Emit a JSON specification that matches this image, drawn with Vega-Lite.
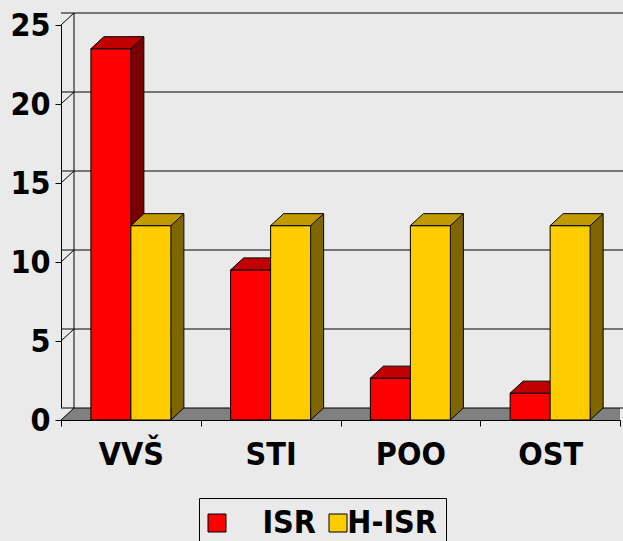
{
  "$schema": "https://vega.github.io/schema/vega-lite/v6.json",
  "width": 559,
  "height": 395,
  "autosize": {"type": "none"},
  "padding": {"left": 61, "top": 25, "right": 3, "bottom": 121},
  "background": "#EAEAEA",
  "config": {
    "view": {"stroke": null},
    "font": "'Liberation Sans Narrow', 'DejaVu Sans Condensed', sans-serif",
    "axis": {"grid": false, "domainColor": "black", "domainWidth": 1, "tickColor": "black", "tickWidth": 1, "tickSize": 6, "labelFontSize": 32, "labelFontWeight": "bold", "labelColor": "black"},
    "axisX": {"tickBand": "extent", "labelAngle": 0, "labelPadding": 13},
    "axisY": {"tickCount": 5, "labelPadding": 5}
  },
  "datasets": {
    "bars": [
      {"kat": "VVŠ", "rada": "ISR", "hodnota": 23.5},
      {"kat": "STI", "rada": "ISR", "hodnota": 9.5},
      {"kat": "POO", "rada": "ISR", "hodnota": 2.65},
      {"kat": "OST", "rada": "ISR", "hodnota": 1.7},
      {"kat": "VVŠ", "rada": "H-ISR", "hodnota": 12.3},
      {"kat": "STI", "rada": "H-ISR", "hodnota": 12.3},
      {"kat": "POO", "rada": "H-ISR", "hodnota": 12.3},
      {"kat": "OST", "rada": "H-ISR", "hodnota": 12.3}
    ],
    "grid": [{"v": 0}, {"v": 5}, {"v": 10}, {"v": 15}, {"v": 20}, {"v": 25}]
  },
  "layer": [
    {
      "data": {"name": "grid"},
      "transform": [{"filter": "datum.v === 0"}],
      "mark": {"type": "rule", "stroke": "#808080", "strokeWidth": 12, "strokeCap": "butt", "yOffset": -6, "x2Offset": 13},
      "encoding": {
        "y": {"field": "v", "type": "quantitative", "title": null, "scale": {"domain": [0, 25], "nice": false}}
      }
    },
    {
      "data": {"name": "grid"},
      "transform": [{"filter": "datum.v === 0"}],
      "mark": {"type": "point", "shape": "M0,0 L0,-12 L13,-12 Z", "size": 4, "filled": true, "fill": "#EAEAEA", "strokeWidth": 0, "opacity": 1},
      "encoding": {
        "x": {"value": 0},
        "y": {"field": "v", "type": "quantitative", "title": null}
      }
    },
    {
      "data": {"name": "grid"},
      "mark": {"type": "rule", "stroke": "black", "strokeWidth": 1, "yOffset": -12, "xOffset": 13, "x2Offset": 13},
      "encoding": {
        "y": {"field": "v", "type": "quantitative", "title": null}
      }
    },
    {
      "data": {"name": "grid"},
      "mark": {"type": "rule", "stroke": "black", "strokeWidth": 1, "x2Offset": 13, "y2Offset": -12},
      "encoding": {
        "x": {"value": 0},
        "x2": {"value": 0},
        "y": {"field": "v", "type": "quantitative", "title": null},
        "y2": {"field": "v"}
      }
    },
    {
      "data": {"name": "grid"},
      "transform": [{"filter": "datum.v === 0"}],
      "mark": {"type": "rule", "stroke": "black", "strokeWidth": 1, "xOffset": 13, "yOffset": -12, "y2Offset": -12},
      "encoding": {
        "x": {"value": 0},
        "y": {"datum": 0, "type": "quantitative", "title": null},
        "y2": {"datum": 25}
      }
    },
    {
      "data": {"name": "bars"},
      "transform": [{"filter": "datum.rada === 'ISR'"}],
      "mark": {"type": "rule", "stroke": "#780000", "strokeWidth": 13, "strokeCap": "butt", "xOffset": 6.5, "yOffset": -12, "y2Offset": -12},
      "encoding": {
        "x": {"field": "kat", "type": "nominal", "title": null, "sort": ["VVŠ", "STI", "POO", "OST"], "scale": {"type": "band", "paddingInner": 0, "paddingOuter": 0}},
        "y": {"field": "hodnota", "type": "quantitative", "title": null},
        "y2": {"datum": 0}
      }
    },
    {
      "data": {"name": "bars"},
      "transform": [{"filter": "datum.rada === 'ISR'"}],
      "mark": {"type": "rule", "stroke": "black", "strokeWidth": 1, "xOffset": 13, "yOffset": -12, "y2Offset": -12},
      "encoding": {
        "x": {"field": "kat", "type": "nominal", "title": null, "sort": ["VVŠ", "STI", "POO", "OST"]},
        "y": {"field": "hodnota", "type": "quantitative", "title": null},
        "y2": {"datum": 0}
      }
    },
    {
      "data": {"name": "bars"},
      "transform": [{"filter": "datum.rada === 'H-ISR'"}],
      "mark": {"type": "rule", "stroke": "#7F6600", "strokeWidth": 13, "strokeCap": "butt", "xOffset": 46.5, "yOffset": -12, "y2Offset": -12},
      "encoding": {
        "x": {"field": "kat", "type": "nominal", "title": null, "sort": ["VVŠ", "STI", "POO", "OST"]},
        "y": {"field": "hodnota", "type": "quantitative", "title": null},
        "y2": {"datum": 0}
      }
    },
    {
      "data": {"name": "bars"},
      "transform": [{"filter": "datum.rada === 'H-ISR'"}],
      "mark": {"type": "rule", "stroke": "black", "strokeWidth": 1, "xOffset": 53, "yOffset": -12, "y2Offset": -12},
      "encoding": {
        "x": {"field": "kat", "type": "nominal", "title": null, "sort": ["VVŠ", "STI", "POO", "OST"]},
        "y": {"field": "hodnota", "type": "quantitative", "title": null},
        "y2": {"datum": 0}
      }
    },
    {
      "data": {"name": "bars"},
      "mark": {"type": "point", "shape": "M20,-12 L20,0 L33,-12", "size": 4, "filled": true, "stroke": "black", "strokeWidth": 1, "opacity": 1},
      "encoding": {
        "x": {"field": "kat", "type": "nominal", "title": null, "sort": ["VVŠ", "STI", "POO", "OST"]},
        "xOffset": {"field": "rada", "type": "nominal", "sort": ["ISR", "H-ISR"], "scale": {"type": "band", "paddingInner": 0, "paddingOuter": 0.747}},
        "y": {"datum": 0, "type": "quantitative", "title": null},
        "fill": {"condition": {"test": "datum.rada === 'ISR'", "value": "#780000"}, "value": "#7F6600"}
      }
    },
    {
      "data": {"name": "bars"},
      "transform": [{"filter": "datum.rada === 'ISR'"}],
      "mark": {"type": "bar", "stroke": "black", "strokeWidth": 1, "opacity": 1},
      "encoding": {
        "x": {"field": "kat", "type": "nominal", "title": null, "sort": ["VVŠ", "STI", "POO", "OST"]},
        "xOffset": {"field": "rada", "type": "nominal", "sort": ["ISR", "H-ISR"]},
        "y": {"field": "hodnota", "type": "quantitative", "title": null},
        "fill": {
          "field": "rada", "type": "nominal",
          "scale": {"domain": ["ISR", "H-ISR"], "range": ["#FF0000", "#FFCC00"]},
          "legend": {"orient": "none", "legendX": 138, "legendY": 473, "direction": "horizontal", "title": null, "symbolType": "square", "symbolSize": 324, "symbolStrokeColor": "black", "symbolStrokeWidth": 1, "symbolOpacity": 1, "symbolOffset": -7, "labelFontSize": 32, "labelFontWeight": "bold", "labelColor": "black", "labelAlign": "right", "labelOffset": 83, "columnPadding": 11, "strokeColor": "black", "padding": 9}
        }
      }
    },
    {
      "data": {"name": "bars"},
      "transform": [{"filter": "datum.rada === 'ISR'"}],
      "mark": {"type": "point", "shape": "M-20,0 L20,0 L33,-12 L-7,-12 Z", "size": 4, "filled": true, "fill": "#C00000", "stroke": "black", "strokeWidth": 1, "opacity": 1},
      "encoding": {
        "x": {"field": "kat", "type": "nominal", "title": null, "sort": ["VVŠ", "STI", "POO", "OST"]},
        "xOffset": {"field": "rada", "type": "nominal", "sort": ["ISR", "H-ISR"]},
        "y": {"field": "hodnota", "type": "quantitative", "title": null}
      }
    },
    {
      "data": {"name": "bars"},
      "transform": [{"filter": "datum.rada === 'H-ISR'"}],
      "mark": {"type": "bar", "stroke": "black", "strokeWidth": 1, "opacity": 1},
      "encoding": {
        "x": {"field": "kat", "type": "nominal", "title": null, "sort": ["VVŠ", "STI", "POO", "OST"]},
        "xOffset": {"field": "rada", "type": "nominal", "sort": ["ISR", "H-ISR"]},
        "y": {"field": "hodnota", "type": "quantitative", "title": null},
        "fill": {"field": "rada", "type": "nominal"}
      }
    },
    {
      "data": {"name": "bars"},
      "transform": [{"filter": "datum.rada === 'H-ISR'"}],
      "mark": {"type": "point", "shape": "M-20,0 L20,0 L33,-12 L-7,-12 Z", "size": 4, "filled": true, "fill": "#C09A00", "stroke": "black", "strokeWidth": 1, "opacity": 1},
      "encoding": {
        "x": {"field": "kat", "type": "nominal", "title": null, "sort": ["VVŠ", "STI", "POO", "OST"]},
        "xOffset": {"field": "rada", "type": "nominal", "sort": ["ISR", "H-ISR"]},
        "y": {"field": "hodnota", "type": "quantitative", "title": null}
      }
    }
  ]
}
